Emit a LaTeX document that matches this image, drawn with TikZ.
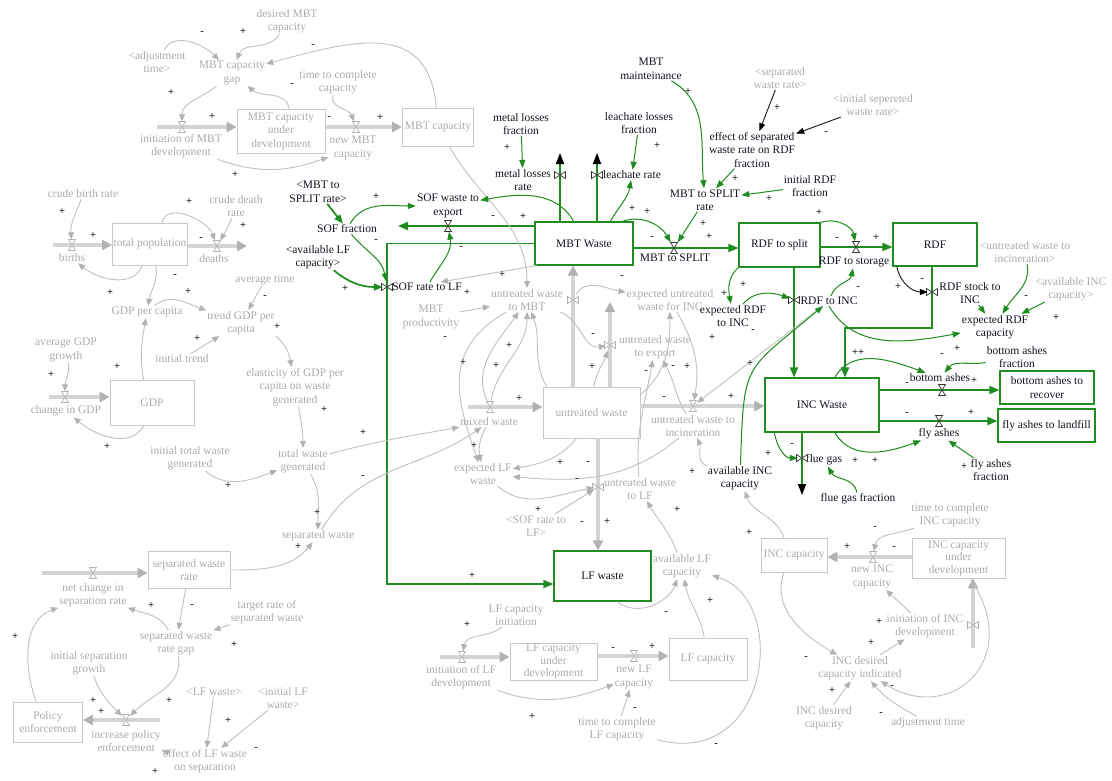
\documentclass[tikz,border=0pt]{standalone}
\usepackage{fontspec}
\setmainfont{Liberation Serif}
\usetikzlibrary{arrows.meta}
\definecolor{gtx}{RGB}{172,172,172}
\definecolor{gln}{RGB}{192,192,192}
\definecolor{gar}{RGB}{178,178,178}
\definecolor{gbx}{RGB}{200,200,200}
\definecolor{gpp}{RGB}{212,212,212}
\definecolor{grn}{RGB}{30,140,30}
\definecolor{txtb}{RGB}{20,20,35}
\tikzset{
 base/.style={font=\fontsize{11.5}{13.5}\selectfont, align=center, inner sep=1pt},
 gt/.style={base, text=gtx},
 bt/.style={base, text=txtb},
 gbox/.style={base, text=gtx, draw=gbx, line width=0.8pt, inner sep=0pt},
 grbox/.style={base, text=txtb, draw=grn, line width=1.1pt, inner sep=0pt},
 glink/.style={draw=gln, line width=0.9pt, -{Triangle[length=7pt,width=6pt,color=gar]}},
 grlink/.style={draw=grn, line width=1pt, -{Triangle[length=8pt,width=6pt,color=grn]}},
 grthick/.style={draw=grn, line width=1.7pt, -{Triangle[length=9pt,width=7pt,color=grn]}},
 blink/.style={draw=black!85, line width=1pt, -{Triangle[length=8pt,width=6pt,color=black]}},
 gpipe/.style={draw=gpp, line width=3.2pt, -{Triangle[length=10pt,width=10pt,color=gar]}},
 grflow/.style={draw=grn, line width=1.8pt, -{Triangle[length=10pt,width=8pt,color=grn]}},
 blktip/.style={-{Triangle[length=11pt,width=8pt,color=black]}},
 valve/.style={inner sep=0pt, minimum width=8pt, minimum height=11pt},
 sgn/.style={font=\fontsize{10.5}{10.5}\selectfont\bfseries, text=black!85, inner sep=0pt},
 valveH/.pic={\draw[pic actions, line width=0.7pt, fill=white] (-3.5,-5.5)--(3.5,-5.5)--(-3.5,5.5)--(3.5,5.5)--cycle;},
 valveV/.pic={\draw[pic actions, line width=0.7pt, fill=white] (-5.5,-3.5)--(-5.5,3.5)--(5.5,-3.5)--(5.5,3.5)--cycle;}
}
\begin{document}
\begin{tikzpicture}[x=1pt,y=-1pt]
\fill[white] (0,0) rectangle (1112,780);
\useasboundingbox (0,0) rectangle (1112,780);

% ---------- gray stocks ----------
\node[gbox, minimum width=88pt, minimum height=44pt] (mbtdev) at (281,131) {MBT capacity\\under\\development};
\node[gbox, minimum width=71pt, minimum height=38pt] (mbtcap) at (438,127) {MBT capacity};
\node[gbox, minimum width=75pt, minimum height=42pt] (totpop) at (150,244) {total population};
\node[gbox, minimum width=84pt, minimum height=45pt] (gdp) at (152,403) {GDP};
\node[gbox, minimum width=82pt, minimum height=37pt] (sepbox) at (189,570) {separated waste\\rate};
\node[gbox, minimum width=69pt, minimum height=40pt] (policy) at (48,722) {Policy\\enforcement};
\node[gbox, minimum width=97pt, minimum height=51pt] (untreated) at (591.5,412.5) {untreated waste};
\node[gbox, minimum width=87pt, minimum height=37pt, font=\fontsize{11.5}{12.5}\selectfont] (lfdev) at (553.5,661.5) {LF capacity\\under\\development};
\node[gbox, minimum width=78pt, minimum height=42pt] (lfcap) at (708,659) {LF capacity};
\node[gbox, minimum width=66pt, minimum height=34pt] (inccap) at (794,555) {INC capacity};
\node[gbox, minimum width=93pt, minimum height=40pt, font=\fontsize{11.5}{12.5}\selectfont] (incdev) at (958.5,558) {INC capacity\\under\\development};

% ---------- green stocks ----------
\node[grbox, minimum width=98pt, minimum height=43pt] (mbtw) at (584,243.5) {MBT Waste};
\node[grbox, minimum width=81pt, minimum height=44pt] (rdfsplit) at (779.5,245) {RDF to split};
\node[grbox, minimum width=84pt, minimum height=43pt] (rdf) at (935,244.5) {RDF};
\node[grbox, minimum width=114pt, minimum height=54pt] (incw) at (822,405) {INC Waste};
\node[grbox, minimum width=94pt, minimum height=33pt] (bar) at (1047,387.5) {bottom ashes to\\recover};
\node[grbox, minimum width=97pt, minimum height=33pt] (fal) at (1046.5,425.5) {fly ashes to landfill};
\node[grbox, minimum width=97pt, minimum height=50pt] (lfw) at (602.5,576) {LF waste};

% ---------- gray variables ----------
\node[gt] (desMBT) at (287,21) {desired MBT\\capacity};
\node[gt] (adjT) at (157,62) {<adjustment\\time>};
\node[gt] (gap) at (232,73) {MBT capacity\\gap};
\node[gt] (initMBTl) at (181,146) {initiation of MBT\\development};
\node[gt] (ttc) at (338,82) {time to complete\\capacity};
\node[gt] (newMBTl) at (353,148) {new MBT\\capacity};
\node[gt] (cbr) at (83,194) {crude birth rate};
\node[gt] (cdr) at (236,206) {crude death\\rate};
\node[gt] (birthsl) at (72,258) {births};
\node[gt] (deathsl) at (214,259) {deaths};
\node[gt] (gdppc) at (147,312) {GDP per capita};
\node[gt] (avgtime) at (265,280) {average time};
\node[gt] (trend) at (241,323) {trend GDP per\\capita};
\node[gt] (inittrend) at (182,359) {initial trend};
\node[gt] (elast) at (295,387) {elasticity of GDP per\\capita on waste\\generated};
\node[gt] (avggdp) at (66,350) {average GDP\\growth};
\node[gt] (chgdpl) at (66,411) {change in GDP};
\node[gt] (itwg) at (190,458) {initial total waste\\generated};
\node[gt] (twg) at (303,461) {total waste\\generated};
\node[gt] (sepw) at (318,536) {separated waste};
\node[gt] (netchl) at (93,595) {net change in\\separation rate};
\node[gt] (target) at (267,612) {target rate of\\separated waste};
\node[gt] (sepgap) at (176,643) {separated waste\\rate gap};
\node[gt] (isg) at (89,663) {initial separation\\growth};
\node[gt] (incpoll) at (126,741) {increase policy\\enforcement};
\node[gt] (lfwref) at (214,692) {<LF waste>};
\node[gt] (ilfw) at (283,698) {<initial LF\\waste>};
\node[gt] (efflf) at (205,761) {effect of LF waste\\on separation};
\node[gt] (mbtprod) at (431,317) {MBT\\productivity};
\node[gt] (utmbt) at (527,300) {untreated waste\\to MBT};
\node[gt] (mixedl) at (489,422) {mixed waste};
\node[gt] (explf) at (483,474) {expected LF\\waste};
\node[gt] (sofref) at (536,526) {<SOF rate to\\LF>};
\node[gt] (utlfl) at (640,489) {untreated waste\\to LF};
\node[gt] (avlf) at (682,566) {available LF\\capacity};
\node[gt] (lfci) at (516,615) {LF capacity\\initiation};
\node[gt] (initLFl) at (461,677) {initiation of LF\\development};
\node[gt] (newLFl) at (634,677) {new LF\\capacity};
\node[gt] (ttclf) at (617,729) {time to complete\\LF capacity};
\node[gt] (expinc) at (670,300) {expected untreated\\waste for INC};
\node[gt] (utexpl) at (655,347) {untreated waste\\to export};
\node[gt] (utincl) at (693,426) {untreated waste to\\incineration};
\node[gt] (ttcinc) at (950,515) {time to complete\\INC capacity};
\node[gt] (newINCl) at (872,577) {new INC\\capacity};
\node[gt] (initINCl) at (925,626) {initiation of INC\\development};
\node[gt] (incdci) at (860,668) {INC desired\\capacity indicated};
\node[gt] (incdc) at (824,718) {INC desired\\capacity};
\node[gt] (adjt2) at (928,723) {adjustment time};
\node[gt] (sepref) at (780,78) {<separated\\waste rate>};
\node[gt] (isepref) at (873,105) {<initial sepereted\\waste rate>};
\node[gt] (utiref) at (1025,252) {<untreated waste to\\incineration>};
\node[gt] (avincref) at (1071,289) {<available INC\\capacity>};

% ---------- black variables ----------
\node[bt] (mbtsplitref) at (318,192) {<MBT to\\SPLIT rate>};
\node[bt] (soff) at (347,229) {SOF fraction};
\node[bt] (avlfref) at (318,257) {<available LF\\capacity>};
\node[bt] (sofexp) at (448,206) {SOF waste to\\export};
\node[bt] (sofLFl) at (427,287) {SOF rate to LF};
\node[bt] (mlf) at (521,124) {metal losses\\fraction};
\node[bt] (mlrl) at (523,180) {metal losses\\rate};
\node[bt] (llf) at (639,123) {leachate losses\\fraction};
\node[bt] (llrl) at (632,175) {leachate rate};
\node[bt] (mbtm) at (651,69) {MBT\\mainteinance};
\node[bt] (effsep) at (752,150) {effect of separated\\waste rate on RDF\\fraction};
\node[bt] (msr) at (705,200) {MBT to SPLIT\\rate};
\node[bt] (irdf) at (810,186) {initial RDF\\fraction};
\node[bt] (mbtsplitl) at (675,258) {MBT to SPLIT};
\node[bt] (rdfstorl) at (854,262) {RDF to storage};
\node[bt] (exprdf) at (733,316) {expected RDF\\to INC};
\node[bt] (rdfincl) at (829,301) {RDF to INC};
\node[bt] (rdfstockl) at (970,293) {RDF stock to\\INC};
\node[bt] (exprdfcap) at (995,327) {expected RDF\\capacity};
\node[bt] (baf) at (1017,357) {bottom ashes\\fraction};
\node[bt] (bal) at (940,378) {bottom ashes};
\node[bt] (fall) at (939,434) {fly ashes};
\node[bt] (faf) at (991,470) {fly ashes\\fraction};
\node[bt] (fgl) at (824,460) {flue gas};
\node[bt] (fgf) at (858,499) {flue gas fraction};
\node[bt] (avinc) at (740,478) {available INC\\capacity};

% ---------- valves ----------
\foreach \n/\x/\y in {vInitMBT/182/127, vNewMBT/356/127, vBirths/72/245, vDeaths/217/246,
  vChGDP/65/397, vNetCh/93/573, vIncPol/126/720, vMixed/490/407, vUtInc/693/406,
  vInitLF/462/657, vNewLF/634/656, vNewINC/873/557, vUtMBT/573/300, vUtExp/610/345,
  vUtLF/598/487, vInitINC/973/625, vSOFexp/448/226, vMBTsplit/674/248, vRDFstor/856/247,
  vBA/942/390, vFA/939/421, vSOFLF/387/287, vMetal/560/175, vLeach/597/175,
  vRDFinc/794/300, vRDFstock/932/292, vFG/802/458}
  \node[valve] (\n) at (\x,\y) {};

% ---------- free ends / corners ----------
\coordinate (pInitMBT) at (157,127);
\coordinate (pBirths) at (53,245);
\coordinate (pDeaths) at (247,246);
\coordinate (pChGDP) at (49,397);
\coordinate (pNet) at (42,573);
\coordinate (pInc) at (160,720);
\coordinate (pMixed) at (468,407);
\coordinate (pExp) at (610,302);
\coordinate (pInitLF) at (440,657);
\coordinate (pInitINC) at (973,648);
\coordinate (pSOFexp) at (398,226);
\coordinate (c1) at (387,243.5);
\coordinate (c2) at (387,584);
\coordinate (pMetal) at (560,153);
\coordinate (pLeach) at (597,153);
\coordinate (c3) at (932,328);
\coordinate (c4) at (845,328);
\coordinate (pFG) at (802,495);

% ---------- gray flows ----------
\draw[gpipe] (pInitMBT) -- (mbtdev.west |- pInitMBT);
\draw[gpipe] (mbtdev.east |- vNewMBT) -- (mbtcap.west |- vNewMBT);
\draw[gpipe] (pBirths) -- (totpop.west |- pBirths);
\draw[gpipe] (totpop.east |- pDeaths) -- (pDeaths);
\draw[gpipe] (pChGDP) -- (gdp.west |- pChGDP);
\draw[gpipe] (pNet) -- (sepbox.west |- pNet);
\draw[gpipe] (pInc) -- (policy.east |- pInc);
\draw[gpipe] (pMixed) -- (untreated.west |- pMixed);
\draw[gpipe] (untreated.north -| vUtMBT) -- (mbtw.south -| vUtMBT);
\draw[gpipe] (untreated.north -| pExp) -- (pExp);
\draw[gpipe] (untreated.east |- vUtInc) -- (incw.west |- vUtInc);
\draw[gpipe] (untreated.south -| vUtLF) -- (lfw.north -| vUtLF);
\draw[gpipe] (pInitLF) -- (lfdev.west |- pInitLF);
\draw[gpipe] (lfdev.east |- vNewLF) -- (lfcap.west |- vNewLF);
\draw[gpipe] (incdev.west |- vNewINC) -- (inccap.east |- vNewINC);
\draw[gpipe] (pInitINC) -- (incdev.south -| pInitINC);

% ---------- green flows ----------
\draw[grflow] (mbtw.west |- vSOFexp) -- (pSOFexp);
\draw[grflow] (mbtw.west) -- (c1) -- (c2) -- (lfw.west |- c2);
\draw[grflow, blktip] (mbtw.north -| pMetal) -- (pMetal);
\draw[grflow, blktip] (mbtw.north -| pLeach) -- (pLeach);
\draw[grflow] (mbtw.east |- vMBTsplit) -- (rdfsplit.west |- vMBTsplit);
\draw[grflow] (rdfsplit.east |- vRDFstor) -- (rdf.west |- vRDFstor);
\draw[grflow] (rdfsplit.south -| vRDFinc) -- (incw.north -| vRDFinc);
\draw[grflow] (rdf.south -| c3) -- (c3) -- (c4) -- (incw.north -| c4);
\draw[grflow] (incw.east |- vBA) -- (bar.west |- vBA);
\draw[grflow] (incw.east |- vFA) -- (fal.west |- vFA);
\draw[grflow, blktip] (incw.south -| pFG) -- (pFG);

% ---------- valve symbols ----------
\foreach \n in {vInitMBT, vNewMBT, vBirths, vDeaths, vChGDP, vNetCh, vIncPol, vMixed, vUtInc, vInitLF, vNewLF, vNewINC}
  \pic[draw=gar] at (\n) {valveH};
\foreach \n in {vUtMBT, vUtExp, vUtLF, vInitINC}
  \pic[draw=gar] at (\n) {valveV};
\foreach \n in {vSOFexp, vMBTsplit, vRDFstor, vBA, vFA}
  \pic[draw=black!80] at (\n) {valveH};
\foreach \n in {vSOFLF, vMetal, vLeach, vRDFinc, vRDFstock, vFG}
  \pic[draw=black!80] at (\n) {valveV};

% ---------- gray links ----------
\draw[glink] (adjT) to[out=60,in=135] (gap);
\draw[glink] (desMBT) to[out=240,in=70] (gap);
\draw[glink] (mbtcap) to[out=95,in=15,looseness=1.3] (gap);
\draw[glink] (mbtdev.70) to[out=100,in=-40] (gap);
\draw[glink] (gap) to[out=220,in=90] (vInitMBT);
\draw[glink] (initMBTl) to[out=-20,in=200] (newMBTl);
\draw[glink] (ttc) to[out=250,in=110] (vNewMBT);
\draw[glink] (cbr) to[out=250,in=95] (vBirths);
\draw[glink] (totpop.60) to[out=80,in=110] (vDeaths);
\draw[glink] (cdr) to[out=250,in=60] (vDeaths);
\draw[glink] (totpop.-110) to[out=-110,in=-40] (birthsl);
\draw[glink] (totpop.-75) to[out=-80,in=80] (gdppc);
\draw[glink] (gdppc) to[out=40,in=160] (trend);
\draw[glink] (avgtime) -- (trend);
\draw[glink] (inittrend) -- (trend);
\draw[glink] (trend.south east) to[out=-40,in=100] (elast);
\draw[glink] (avggdp) to[out=-80,in=90] (vChGDP);
\draw[glink] (gdp.110) to[out=100,in=-100] (gdppc);
\draw[glink] (gdp.-110) to[out=-120,in=-40] (chgdpl);
\draw[glink] (itwg) to[out=-40,in=200] (twg);
\draw[glink] (elast) to[out=-80,in=90] (twg);
\draw[glink] (twg) to[out=-60,in=90] (sepw);
\draw[glink] (twg) to[out=15,in=190] (mixedl);
\draw[glink] (sepw) to[out=60,in=215] (mixedl);
\draw[glink] (sepbox) to[out=0,in=230] (sepw);
\draw[glink] (sepbox) -- (sepgap);
\draw[glink] (target) -- (sepgap);
\draw[glink] (sepgap) to[out=120,in=-20] (netchl);
\draw[glink] (isg) to[out=-70,in=135] (vIncPol);
\draw[glink] (sepgap) to[out=-80,in=45] (vIncPol);
\draw[glink] (policy.120) to[out=110,in=200] (netchl);
\draw[glink] (lfwref) -- (efflf);
\draw[glink] (ilfw) -- (efflf);
\draw[glink] (efflf) to[out=165,in=-15] (incpoll);
\draw[glink] (mbtcap) to[out=-60,in=90] (utmbt);
\draw[glink] (mbtprod) -- (utmbt);
\draw[glink] (mbtw.205) -- (sofLFl.20);
\draw[glink] (vMixed) to[out=115,in=-125] (utmbt);
\draw[glink] (vMixed) to[out=80,in=-90] (utmbt);
\draw[glink] (untreated.150) to[out=120,in=-70] (utmbt);
\draw[glink] (utmbt) to[out=210,in=110,looseness=1.2] (explf);
\draw[glink] (mixedl) to[out=240,in=100] (explf);
\draw[glink] (untreated.-120) to[out=230,in=10] (explf);
\draw[glink] (utincl) to[out=220,in=-5] (explf);
\draw[glink] (explf) to[out=-40,in=190] (vUtLF);
\draw[glink] (sofref) -- (vUtLF);
\draw[glink] (avlf) to[out=110,in=-60] (utlfl);
\draw[glink] (untreated.85) to[out=80,in=250] (vUtExp);
\draw[glink] (utmbt) to[out=-20,in=190] (vUtExp);
\draw[glink] (vUtMBT) to[out=60,in=170] (expinc);
\draw[glink] (untreated.20) to[out=40,in=-90] (expinc);
\draw[glink] (expinc) to[out=-60,in=80] (vUtInc);
\draw[glink] (utincl) to[out=120,in=-60] (utexpl);
\draw[glink] (utlfl) to[out=95,in=-100] (utexpl);
\draw[glink] (rdfincl) -- (vUtInc);
\draw[glink] (avinc) to[out=160,in=-70] (utincl);
\draw[glink] (inccap.120) to[out=110,in=-70] (avinc);
\draw[glink] (lfw.-60) to[out=-40,in=250] (avlf);
\draw[glink] (lfcap) to[out=100,in=-80] (avlf);
\draw[glink] (ttclf) .. controls (770,770) and (790,600) .. (avlf);
\draw[glink] (lfci) to[out=220,in=80] (vInitLF);
\draw[glink] (initLFl) to[out=-20,in=200] (newLFl);
\draw[glink] (ttclf) -- (newLFl);
\draw[glink] (inccap.-120) to[out=250,in=150] (incdci);
\draw[glink] (ttcinc) to[out=200,in=80] (vNewINC);
\draw[glink] (initINCl) -- (newINCl);
\draw[glink] (incdci) -- (initINCl);
\draw[glink] (incdc) -- (incdci);
\draw[glink] (adjt2) to[out=150,in=-50] (incdci);
\draw[glink] (incdev.-60) .. controls (1025,660) and (950,725) .. (incdci);

% ---------- green / black links ----------
\draw[grthick] (mbtsplitref) -- (soff);
\draw[grlink] (soff) to[out=60,in=180] (sofexp);
\draw[grlink] (soff) to[out=-50,in=100] (vSOFLF);
\draw[grlink] (sofLFl) to[out=60,in=-80] (vSOFexp);
\draw[grthick] (avlfref) to[out=-40,in=180] (vSOFLF);
\draw[grlink] (mbtw.115) to[out=120,in=10] (sofexp);
\draw[grlink] (mlf) -- (mlrl);
\draw[grlink] (llf) -- (llrl);
\draw[grlink] (mbtw.40) to[out=60,in=-100] (llrl);
\draw[grlink] (mbtw.30) to[out=20,in=120] (vMBTsplit);
\draw[grlink] (msr) -- (vMBTsplit);
\draw[grlink] (mbtm) to[out=-30,in=95] (msr);
\draw[grlink] (effsep) -- (msr);
\draw[grlink] (irdf) -- (msr);
\draw[blink] (sepref) -- (effsep);
\draw[blink] (isepref) -- (effsep);
\draw[grlink] (rdfsplit.north east) to[out=20,in=100] (vRDFstor);
\draw[grlink] (rdfsplit.south west) to[out=220,in=100] (exprdf);
\draw[grlink] (exprdf) to[out=50,in=160] (vRDFinc);
\draw[grlink] (avinc) to[out=88,in=220,looseness=1.5] (rdfincl);
\draw[grlink] (rdfincl) to[out=70,in=-100] (rdfstorl);
\draw[blink] (rdf.-150) to[out=-80,in=180] (vRDFstock);
\draw[grlink] (rdfstockl) -- (exprdfcap);
\draw[grlink] (utiref) to[out=-80,in=60] (exprdfcap);
\draw[grlink] (avincref) -- (exprdfcap);
\draw[grlink] (rdfincl.south) to[out=-60,in=190] (exprdfcap);
\draw[grlink] (baf) to[out=190,in=50] (bal);
\draw[grlink] (incw.65) to[out=60,in=160] (bal);
\draw[grlink] (incw.-65) to[out=-60,in=200] (fall);
\draw[grlink] (faf) -- (fall);
\draw[grlink] (incw.-150) to[out=-80,in=180] (vFG);
\draw[grlink] (fgf) to[out=100,in=-60] (fgl);

% ---------- polarity signs ----------
\foreach \x/\y/\s [count=\i] in {202/33/-, 243/32/+, 171/93/+, 212/117/+, 235/175/+, 313/46/-, 292/85/-, 329/118/-, 380/118/+,
 62/212/+, 93/236/+, 189/202/+, 201/239/-, 243/226/+, 110/293/+, 175/276/-, 188/292/+, 265/297/-, 197/339/+, 277/327/+,
 51/375/+, 117/367/+, 107/447/+, 228/486/+, 324/410/+, 317/513/+, 363/433/+, 363/477/-, 298/547/+,
 151/606/+, 192/606/-, 234/645/+, 15/637/+, 93/701/+, 101/712/+, 169/701/+, 228/721/+, 256/749/-, 155/772/+,
 376/197/+, 376/241/-, 345/289/+, 493/217/-, 523/217/+, 461/248/-, 467/293/+,
 507/148/+, 657/146/+, 632/209/+, 647/212/+, 688/92/+, 777/108/+, 826/133/-, 735/179/+, 769/199/+, 652/238/-,
 703/224/+, 709/237/+, 819/213/+, 837/239/-, 876/238/+,
 502/275/+, 445/338/-, 463/363/+, 496/366/+, 509/346/+, 519/399/+, 474/446/+, 538/510/+, 560/463/+, 588/463/-,
 577/480/-, 582/523/-, 607/522/+, 622/277/-, 593/335/-, 592/367/+, 673/367/-, 687/367/+, 646/372/-, 664/398/-,
 731/397/+, 712/338/+, 750/364/+, 692/472/+, 743/285/+, 753/331/-, 724/294/+,
 472/576/+, 467/625/+, 532/717/+, 666/613/-, 710/601/+, 613/649/-, 652/647/+, 635/709/-, 716/745/-, 677/510/+, 749/533/+,
 875/528/-, 847/547/+, 894/548/-, 879/622/+, 871/643/+, 832/691/+, 881/714/-, 892/687/-, 806/658/-,
 922/280/-, 898/287/+, 858/288/-, 1026/297/-, 1056/318/+, 942/355/-, 957/349/+, 907/414/-, 971/413/+, 964/467/+,
 768/454/+, 792/445/-, 855/461/+, 875/461/+, 907/384/-, 974/381/+}
  \node[sgn] (s\i) at (\x,\y) {\s};
\node[sgn] (spp) at (858,353) {++};
\end{tikzpicture}
\end{document}
